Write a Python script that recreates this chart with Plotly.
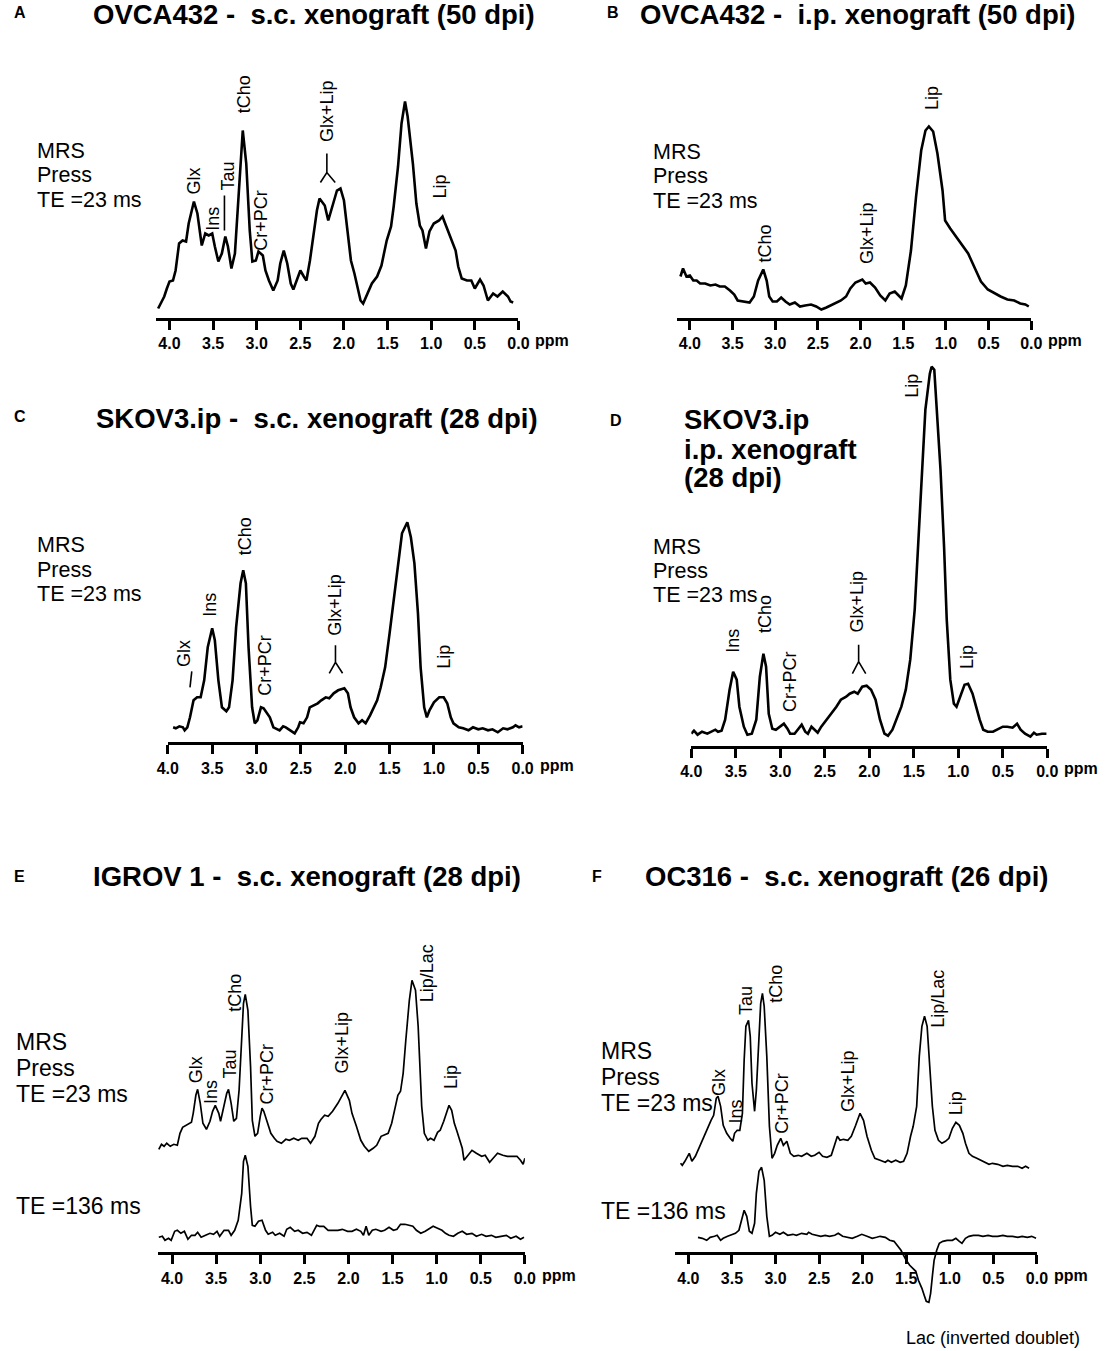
import plotly.graph_objects as go

W, H = 1108, 1351
FONT = "Liberation Sans, Arial, sans-serif"

# ---- spectra: chemical shift (ppm) and signal (a.u.) ----
# A  OVCA432 s.c.
a_ppm = [4.13, 4.09, 4.06, 4.03, 4.00, 3.96, 3.93, 3.89, 3.85, 3.81,
         3.78, 3.72, 3.68, 3.63, 3.59, 3.55, 3.51, 3.48, 3.44, 3.40,
         3.36, 3.33, 3.29, 3.25, 3.20, 3.16, 3.12, 3.08, 3.05, 3.01,
         2.98, 2.93, 2.90, 2.86, 2.81, 2.76, 2.73, 2.69, 2.65, 2.61,
         2.58, 2.54, 2.50, 2.46, 2.43, 2.39, 2.35, 2.31, 2.28, 2.22,
         2.18, 2.13, 2.08, 2.04, 2.00, 1.96, 1.92, 1.88, 1.85, 1.81,
         1.78, 1.73, 1.68, 1.62, 1.57, 1.51, 1.46, 1.43, 1.38, 1.34,
         1.30, 1.27, 1.21, 1.17, 1.13, 1.10, 1.06, 1.02, 0.97, 0.91,
         0.87, 0.84, 0.78, 0.72, 0.69, 0.65, 0.59, 0.54, 0.50, 0.44,
         0.40, 0.35, 0.29, 0.24, 0.18, 0.12, 0.09, 0.06]
a_int = [10, 17, 22, 30, 37, 38, 48, 75, 78, 77,
         95, 117, 105, 73, 85, 83, 85, 72, 57, 65,
         82, 72, 50, 65, 138, 188, 155, 88, 57, 58,
         67, 63, 48, 38, 28, 38, 55, 68, 55, 35,
         29, 38, 48, 42, 38, 58, 85, 108, 120, 113,
         98, 112, 128, 130, 118, 88, 58, 45, 33, 18,
         15, 25, 35, 42, 53, 78, 92, 112, 152, 195,
         217, 202, 155, 115, 93, 88, 70, 87, 95, 98,
         102, 95, 82, 68, 52, 40, 38, 38, 30, 39,
         33, 18, 25, 22, 27, 22, 17, 16]

# B  OVCA432 i.p.
b_ppm = [4.11, 4.08, 4.04, 4.00, 3.96, 3.92, 3.88, 3.82, 3.76, 3.70,
         3.65, 3.59, 3.53, 3.48, 3.44, 3.38, 3.30, 3.25, 3.20, 3.14,
         3.10, 3.07, 3.03, 2.98, 2.93, 2.88, 2.83, 2.77, 2.71, 2.65,
         2.58, 2.52, 2.46, 2.40, 2.35, 2.29, 2.23, 2.17, 2.12, 2.06,
         1.98, 1.94, 1.89, 1.83, 1.77, 1.71, 1.66, 1.60, 1.55, 1.52,
         1.47, 1.41, 1.35, 1.29, 1.24, 1.20, 1.15, 1.10, 1.04, 1.01,
         0.95, 0.89, 0.82, 0.74, 0.66, 0.59, 0.51, 0.43, 0.36, 0.28,
         0.20, 0.13, 0.07, 0.03]
b_int = [42, 50, 42, 43, 38, 38, 35, 35, 33, 34,
         32, 32, 28, 24, 18, 17, 16, 22, 38, 49,
         38, 22, 17, 17, 21, 17, 14, 16, 12, 13,
         14, 12, 9, 11, 13, 16, 18, 22, 30, 36,
         39, 35, 36, 31, 23, 18, 25, 27, 22, 20,
         33, 68, 122, 168, 188, 192, 187, 165, 128, 98,
         90, 83, 75, 65, 50, 37, 29, 25, 22, 19,
         18, 15, 14, 12]

# C  SKOV3.ip s.c.
c_ppm = [3.94, 3.91, 3.87, 3.83, 3.81, 3.78, 3.75, 3.71, 3.67, 3.63,
         3.59, 3.55, 3.50, 3.47, 3.43, 3.39, 3.34, 3.31, 3.27, 3.23,
         3.18, 3.15, 3.12, 3.09, 3.05, 3.02, 2.99, 2.95, 2.92, 2.89,
         2.85, 2.81, 2.78, 2.74, 2.70, 2.67, 2.62, 2.57, 2.53, 2.51,
         2.47, 2.43, 2.40, 2.36, 2.31, 2.27, 2.22, 2.18, 2.13, 2.08,
         2.05, 2.01, 1.97, 1.94, 1.90, 1.85, 1.81, 1.77, 1.72, 1.68,
         1.64, 1.60, 1.55, 1.50, 1.45, 1.40, 1.36, 1.30, 1.26, 1.22,
         1.18, 1.15, 1.11, 1.08, 1.05, 1.00, 0.94, 0.89, 0.85, 0.81,
         0.78, 0.72, 0.67, 0.61, 0.56, 0.50, 0.45, 0.39, 0.34, 0.28,
         0.22, 0.17, 0.11, 0.08, 0.04, 0.00]
c_int = [16, 15, 17, 16, 13, 16, 26, 43, 46, 46,
         63, 96, 115, 103, 63, 36, 32, 36, 63, 116,
         160, 173, 160, 96, 36, 20, 23, 36, 35, 31,
         26, 16, 15, 13, 17, 16, 13, 10, 16, 21,
         20, 26, 36, 38, 40, 43, 46, 45, 50, 53,
         54, 55, 50, 36, 26, 20, 23, 20, 28, 36,
         43, 56, 76, 110, 146, 186, 210, 221, 206, 180,
         130, 76, 36, 26, 33, 41, 46, 46, 40, 26,
         20, 16, 15, 13, 16, 14, 15, 13, 14, 11,
         15, 14, 16, 18, 16, 17]

# D  SKOV3.ip i.p.
d_ppm = [4.00, 3.97, 3.93, 3.88, 3.82, 3.77, 3.73, 3.70, 3.66, 3.62,
         3.57, 3.53, 3.49, 3.46, 3.41, 3.37, 3.32, 3.27, 3.23, 3.19,
         3.16, 3.13, 3.09, 3.05, 3.00, 2.96, 2.92, 2.89, 2.84, 2.80,
         2.76, 2.72, 2.69, 2.65, 2.61, 2.58, 2.54, 2.48, 2.43, 2.37,
         2.32, 2.26, 2.22, 2.17, 2.13, 2.08, 2.03, 1.98, 1.93, 1.88,
         1.83, 1.79, 1.74, 1.70, 1.64, 1.59, 1.54, 1.49, 1.45, 1.41,
         1.37, 1.32, 1.30, 1.27, 1.24, 1.20, 1.16, 1.13, 1.09, 1.05,
         1.02, 0.98, 0.93, 0.89, 0.84, 0.80, 0.76, 0.72, 0.67, 0.61,
         0.56, 0.50, 0.45, 0.39, 0.34, 0.30, 0.25, 0.19, 0.15, 0.12,
         0.06, 0.01]
d_int = [13, 16, 12, 15, 13, 15, 17, 15, 16, 27,
         57, 75, 67, 40, 20, 12, 13, 27, 70, 93,
         80, 33, 18, 17, 20, 23, 18, 13, 13, 17,
         22, 15, 13, 20, 16, 14, 20, 27, 32, 40,
         47, 50, 53, 55, 53, 60, 61, 57, 47, 27,
         13, 11, 17, 27, 40, 57, 87, 137, 200, 267,
         337, 373, 380, 377, 337, 277, 200, 127, 67, 43,
         40, 50, 62, 63, 53, 40, 27, 17, 15, 15,
         17, 20, 20, 19, 23, 17, 13, 10, 14, 12,
         13, 13]

# E  IGROV 1 s.c., TE 23 ms (upper) and TE 136 ms (lower)
e23_ppm = [4.15, 4.12, 4.09, 4.06, 4.02, 3.98, 3.94, 3.91, 3.88, 3.84,
           3.81, 3.78, 3.76, 3.73, 3.71, 3.68, 3.65, 3.61, 3.57, 3.54,
           3.51, 3.47, 3.45, 3.41, 3.38, 3.36, 3.33, 3.30, 3.27, 3.24,
           3.21, 3.19, 3.17, 3.14, 3.11, 3.09, 3.06, 3.03, 3.00, 2.98,
           2.96, 2.92, 2.88, 2.84, 2.81, 2.76, 2.71, 2.67, 2.62, 2.57,
           2.53, 2.47, 2.43, 2.38, 2.34, 2.31, 2.27, 2.23, 2.18, 2.12,
           2.08, 2.04, 1.99, 1.96, 1.91, 1.86, 1.82, 1.77, 1.72, 1.68,
           1.63, 1.60, 1.55, 1.51, 1.47, 1.44, 1.41, 1.38, 1.35, 1.31,
           1.28, 1.24, 1.21, 1.19, 1.17, 1.14, 1.10, 1.07, 1.03, 0.99,
           0.96, 0.92, 0.88, 0.86, 0.83, 0.80, 0.77, 0.74, 0.71, 0.69,
           0.65, 0.60, 0.55, 0.49, 0.45, 0.40, 0.36, 0.31, 0.25, 0.20,
           0.14, 0.09, 0.05, 0.02, 0.00]
e23_int = [104, 109, 107, 110, 107, 109, 108, 120, 126, 128,
           130, 131, 140, 158, 164, 150, 130, 124, 132, 142,
           148, 140, 132, 147, 160, 164, 150, 132, 135, 163,
           213, 250, 259, 243, 187, 133, 117, 120, 137, 145,
           142, 130, 120, 115, 112, 110, 114, 113, 115, 113,
           115, 115, 110, 117, 130, 134, 138, 137, 142, 150,
           157, 163, 153, 140, 127, 113, 107, 102, 105, 108,
           117, 118, 120, 130, 147, 158, 162, 180, 213, 253,
           273, 263, 227, 180, 147, 120, 113, 115, 113, 121,
           123, 132, 143, 148, 143, 130, 122, 113, 105, 93,
           98, 103, 100, 97, 98, 91, 95, 100, 98, 97,
           97, 97, 93, 89, 95]
e136_ppm = [4.15, 4.11, 4.08, 4.04, 4.01, 3.97, 3.94, 3.90, 3.86, 3.82,
            3.78, 3.74, 3.71, 3.67, 3.62, 3.57, 3.53, 3.49, 3.46, 3.41,
            3.36, 3.33, 3.29, 3.25, 3.21, 3.19, 3.17, 3.14, 3.11, 3.09,
            3.06, 3.02, 2.98, 2.94, 2.91, 2.86, 2.83, 2.78, 2.73, 2.70,
            2.66, 2.61, 2.57, 2.52, 2.47, 2.42, 2.36, 2.33, 2.28, 2.23,
            2.18, 2.12, 2.07, 2.01, 1.96, 1.91, 1.86, 1.83, 1.80, 1.77,
            1.73, 1.69, 1.63, 1.59, 1.54, 1.49, 1.45, 1.41, 1.36, 1.31,
            1.27, 1.23, 1.18, 1.13, 1.09, 1.04, 0.99, 0.94, 0.90, 0.86,
            0.81, 0.76, 0.71, 0.66, 0.60, 0.55, 0.49, 0.44, 0.38, 0.33,
            0.27, 0.21, 0.16, 0.10, 0.05, 0.01]
e136_int = [16, 17, 13, 15, 13, 22, 23, 20, 22, 14,
            18, 18, 21, 16, 18, 20, 19, 22, 17, 23,
            23, 18, 23, 33, 60, 92, 98, 87, 47, 28,
            27, 32, 33, 23, 19, 21, 18, 20, 17, 24,
            26, 22, 23, 20, 21, 18, 28, 27, 27, 23,
            23, 23, 24, 22, 22, 24, 22, 18, 27, 18,
            23, 24, 22, 23, 26, 23, 24, 29, 29, 28,
            27, 23, 20, 22, 24, 27, 25, 23, 20, 18,
            17, 20, 22, 19, 20, 17, 19, 17, 18, 16,
            17, 18, 15, 17, 14, 16]

# F  OC316 s.c., TE 23 ms (upper) and TE 136 ms (lower, inverted Lac)
f23_ppm = [4.09, 4.07, 4.04, 3.99, 3.96, 3.92, 3.88, 3.84, 3.81, 3.77,
           3.74, 3.71, 3.68, 3.66, 3.63, 3.60, 3.56, 3.52, 3.49, 3.47,
           3.44, 3.41, 3.38, 3.36, 3.34, 3.31, 3.29, 3.27, 3.24, 3.22,
           3.19, 3.17, 3.15, 3.13, 3.10, 3.07, 3.04, 3.01, 2.98, 2.94,
           2.91, 2.87, 2.83, 2.79, 2.74, 2.70, 2.64, 2.59, 2.55, 2.50,
           2.46, 2.41, 2.36, 2.32, 2.29, 2.26, 2.22, 2.17, 2.13, 2.08,
           2.03, 1.99, 1.95, 1.90, 1.86, 1.80, 1.74, 1.71, 1.67, 1.62,
           1.57, 1.53, 1.49, 1.45, 1.42, 1.38, 1.35, 1.32, 1.29, 1.26,
           1.23, 1.20, 1.17, 1.13, 1.09, 1.05, 1.01, 0.97, 0.93, 0.89,
           0.85, 0.82, 0.78, 0.74, 0.69, 0.64, 0.60, 0.55, 0.51, 0.45,
           0.39, 0.34, 0.28, 0.22, 0.17, 0.13, 0.09]
f23_int = [90, 88, 92, 100, 92, 97, 105, 113, 120, 127,
           133, 138, 155, 157, 147, 128, 120, 115, 112, 120,
           123, 123, 140, 193, 227, 233, 217, 170, 142, 163,
           213, 250, 260, 247, 197, 127, 95, 100, 108, 115,
           108, 112, 100, 97, 98, 97, 100, 97, 98, 101,
           97, 96, 98, 110, 117, 113, 114, 113, 117, 128,
           140, 133, 117, 103, 95, 93, 91, 93, 91, 93,
           91, 92, 100, 117, 127, 147, 197, 227, 237, 227,
           187, 147, 123, 113, 110, 112, 115, 125, 131, 128,
           120, 110, 100, 97, 95, 93, 91, 89, 90, 89,
           87, 88, 87, 87, 85, 87, 85]
f136_ppm = [3.89, 3.84, 3.79, 3.75, 3.70, 3.67, 3.63, 3.60, 3.55, 3.51,
            3.46, 3.42, 3.38, 3.36, 3.33, 3.30, 3.27, 3.24, 3.22, 3.19,
            3.16, 3.13, 3.10, 3.07, 3.04, 3.00, 2.95, 2.91, 2.86, 2.80,
            2.76, 2.70, 2.64, 2.62, 2.58, 2.53, 2.48, 2.43, 2.38, 2.32,
            2.28, 2.23, 2.17, 2.12, 2.06, 2.01, 1.95, 1.89, 1.84, 1.80,
            1.74, 1.69, 1.64, 1.59, 1.56, 1.53, 1.50, 1.46, 1.43, 1.39,
            1.36, 1.32, 1.29, 1.27, 1.24, 1.22, 1.20, 1.18, 1.15, 1.12,
            1.08, 1.03, 0.97, 0.93, 0.89, 0.86, 0.82, 0.78, 0.73, 0.67,
            0.62, 0.56, 0.51, 0.45, 0.39, 0.34, 0.28, 0.22, 0.17, 0.11,
            0.06, 0.01]
f136_int = [16, 15, 13, 16, 17, 18, 13, 15, 17, 18,
            20, 23, 38, 43, 37, 22, 20, 30, 60, 82,
            86, 73, 37, 17, 18, 21, 19, 21, 18, 19,
            18, 20, 19, 21, 19, 18, 17, 18, 17, 18,
            20, 17, 16, 15, 17, 19, 17, 15, 16, 17,
            16, 13, 12, 7, 3, -2, -7, -12, -15, -18,
            -27, -35, -43, -48, -49, -40, -23, -7, 3, 10,
            12, 13, 13, 15, 12, 10, 15, 17, 18, 18,
            17, 18, 17, 17, 18, 17, 17, 16, 17, 16,
            17, 15]

tick_vals = [4.0, 3.5, 3.0, 2.5, 2.0, 1.5, 1.0, 0.5, 0.0]
tick_text = ["4.0", "3.5", "3.0", "2.5", "2.0", "1.5", "1.0", "0.5", "0.0"]

# panel geometry in page pixels: x of 0.0 ppm, px per ppm, y of the ppm axis
panels = [
    dict(x0=517.7, k=89.0, ay=318.5, start=4.16, yr=(-10, 240), lw=2.6,
         series=[(a_ppm, a_int)]),
    dict(x0=1041.0, k=87.1, ay=318.5, start=4.15, yr=(-10, 240), lw=2.6,
         series=[(b_ppm, b_int)]),
    dict(x0=522.0, k=90.5, ay=743.3, start=4.0, yr=(-10, 240), lw=2.6,
         series=[(c_ppm, c_int)]),
    dict(x0=1057.3, k=90.8, ay=746.7, start=4.0, yr=(-10, 395), lw=2.6,
         series=[(d_ppm, d_int)]),
    dict(x0=524.3, k=90.0, ay=1253.3, start=4.16, yr=(-10, 285), lw=1.7,
         series=[(e23_ppm, e23_int), (e136_ppm, e136_int)]),
    dict(x0=1046.7, k=88.9, ay=1253.3, start=4.15, yr=(-60, 270), lw=1.7,
         series=[(f23_ppm, f23_int), (f136_ppm, f136_int)]),
]

# peak labels: (text, ppm, height)
peak_labels = [
    [("Glx", 3.72, 138), ("Ins", 3.51, 100), ("Tau", 3.33, 143),
     ("tCho", 3.15, 224), ("Cr+PCr", 2.96, 98), ("Glx+Lip", 2.20, 207),
     ("Lip", 1.33, 242), ("Lip", 0.91, 132)],
    [("tCho", 3.12, 75), ("Glx+Lip", 1.93, 85), ("Lip", 1.17, 221)],
    [("Glx", 3.81, 90), ("Ins", 3.52, 139), ("tCho", 3.13, 207),
     ("Cr+PCr", 2.90, 78), ("Glx+Lip", 2.11, 139), ("Lip", 1.22, 276),
     ("Lip", 0.88, 86)],
    [("Ins", 3.53, 106), ("tCho", 3.18, 133), ("Cr+PCr", 2.90, 65),
     ("Glx+Lip", 2.14, 145), ("Lip", 1.52, 361), ("Lip", 0.91, 90)],
    [("Glx", 3.73, 184), ("Ins", 3.55, 161), ("Tau", 3.34, 189),
     ("tCho", 3.28, 260), ("Cr+PCr", 2.92, 179), ("Glx+Lip", 2.07, 211),
     ("Lip/Lac", 1.11, 280), ("Lip", 0.83, 176)],
    [("Glx", 3.64, 171), ("Ins", 3.45, 142), ("Tau", 3.33, 253),
     ("tCho", 2.99, 270), ("Cr+PCr", 2.92, 150), ("Glx+Lip", 2.16, 172),
     ("Lip/Lac", 1.13, 255), ("Lip", 0.93, 150)],
]


def py(y):
    return 1 - y / H


fig = go.Figure()
annotations = []
shapes = []

for i, p in enumerate(panels):
    n = i + 1
    sfx = "" if n == 1 else str(n)
    for ppm, sig in p["series"]:
        fig.add_trace(go.Scatter(x=ppm, y=sig, mode="lines",
                                 line=dict(color="black", width=p["lw"]),
                                 xaxis="x" + sfx, yaxis="y" + sfx,
                                 showlegend=False, hoverinfo="skip"))
    left = p["x0"] - p["start"] * p["k"]
    fig.layout["xaxis" + sfx] = dict(
        domain=[left / W, p["x0"] / W], range=[p["start"], 0],
        anchor="free", position=py(p["ay"]),
        tickvals=tick_vals, ticktext=["<b>%s</b>" % t for t in tick_text],
        tickfont=dict(family=FONT, size=16, color="black"),
        ticks="outside", ticklen=9, tickwidth=2.5, tickcolor="black",
        showline=True, linewidth=3, linecolor="black",
        showgrid=False, zeroline=False, fixedrange=True)
    lo, hi = p["yr"]
    fig.layout["yaxis" + sfx] = dict(
        domain=[py(p["ay"] - lo), py(p["ay"] - hi)], range=[lo, hi],
        anchor="x" + sfx, visible=False, fixedrange=True)
    # "ppm" after the 0.0 tick
    annotations.append(dict(text="<b>ppm</b>", x=0, y=py(p["ay"] + 22),
                            xref="x" + sfx, yref="paper", xanchor="left",
                            yanchor="middle", xshift=15, showarrow=False,
                            font=dict(family=FONT, size=16, color="black")))
    for txt, xv, yv in peak_labels[i]:
        annotations.append(dict(text=txt, x=xv, y=yv, xref="x" + sfx,
                                yref="y" + sfx, textangle=-90,
                                showarrow=False, xanchor="center",
                                yanchor="middle",
                                font=dict(family=FONT, size=18, color="black")))

# small pointer lines and forks under some labels
lk = dict(color="black", width=1.6)
shapes.append(dict(type="line", xref="x", yref="y", x0=3.37, x1=3.37,
                   y0=88, y1=123, line=lk))
shapes.append(dict(type="path", xref="x", yref="y",
                   path="M 2.27 136 L 2.196 146 L 2.10 136 M 2.196 146 L 2.196 165",
                   line=lk))
shapes.append(dict(type="line", xref="x3", yref="y3", x0=3.75, x1=3.73,
                   y0=56, y1=72, line=lk))
shapes.append(dict(type="path", xref="x3", yref="y3",
                   path="M 2.18 70 L 2.11 81 L 2.03 70 M 2.11 81 L 2.11 98",
                   line=lk))
shapes.append(dict(type="path", xref="x4", yref="y4",
                   path="M 2.19 73 L 2.12 85 L 2.04 73 M 2.12 85 L 2.12 102",
                   line=lk))


def text(t, x, y, size, bold=False, anchor="left"):
    annotations.append(dict(text="<b>%s</b>" % t if bold else t,
                            x=x / W, y=py(y), xref="paper", yref="paper",
                            xanchor=anchor, yanchor="middle", showarrow=False,
                            font=dict(family=FONT, size=size, color="black")))


# panel letters and titles
for letter, x, y in [("A", 9, 13), ("B", 614, 13), ("C", 9, 416),
                     ("D", 617, 420), ("E", 9, 876), ("F", 598, 876)]:
    text(letter, x, y, 16, bold=True, anchor="center")

text("OVCA432 -\u00a0 s.c. xenograft (50 dpi)", 309, 14, 27.5, True, "center")
text("OVCA432 -\u00a0 i.p. xenograft (50 dpi)", 864, 14, 27.5, True, "center")
text("SKOV3.ip -\u00a0 s.c. xenograft (28 dpi)", 312, 418, 27.5, True, "center")
text("SKOV3.ip", 685, 419, 27.5, True)
text("i.p. xenograft", 685, 449, 27.5, True)
text("(28 dpi)", 685, 478, 27.5, True)
text("IGROV 1 -\u00a0 s.c. xenograft (28 dpi)", 302, 876, 27.5, True, "center")
text("OC316 -\u00a0 s.c. xenograft (26 dpi)", 852, 876, 27.5, True, "center")

# acquisition notes
for x, ys, size in [(24, (151, 175, 200), 21.5), (653, (152, 176, 201), 21.5),
                    (24, (545, 570, 594), 21.5), (653, (547, 571, 595), 21.5),
                    (3, (1042, 1068, 1094), 23), (600, (1051, 1077, 1103), 23)]:
    for t, y in zip(["MRS", "Press", "TE =23 ms"], ys):
        text(t, x, y, size)
text("TE =136 ms", 3, 1206, 23)
text("TE =136 ms", 600, 1211, 23)
text("Lac (inverted doublet)", 1002, 1338, 18, anchor="center")

fig.update_layout(width=W, height=H, margin=dict(l=0, r=0, t=0, b=0),
                  paper_bgcolor="white", plot_bgcolor="rgba(0,0,0,0)",
                  font=dict(family=FONT, color="black"),
                  annotations=annotations, shapes=shapes)

# the page body has a default 8px margin; drop it so the figure sits at 0,0
fig.write_html("out.html", config={"displayModeBar": False},
               post_script="document.body.style.margin='0';"
                           "document.body.style.overflow='hidden';")
